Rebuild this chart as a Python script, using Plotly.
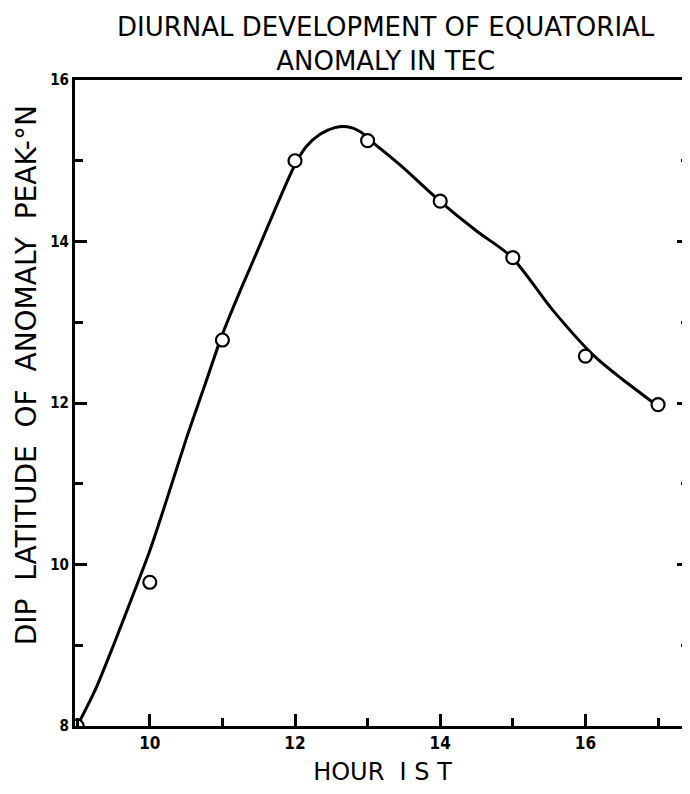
import plotly.graph_objects as go

# Observed points (hour IST, dip latitude of anomaly peak, deg N)
hours = [9, 10, 11, 12, 13, 14, 15, 16, 17]
dip_lat = [8.0, 9.78, 12.78, 15.0, 15.25, 14.5, 13.8, 12.58, 11.98]

# Hand-drawn smooth curve
curve_x = [9.0, 9.25, 9.5, 9.75, 10.0, 10.25, 10.5, 10.75, 11.0, 11.25, 11.5, 11.75,
           12.0, 12.15, 12.35, 12.55, 12.72, 12.9, 13.04, 13.47, 13.97, 14.5, 14.98,
           15.55, 16.1, 16.5, 16.97]
curve_y = [8.0, 8.45, 9.0, 9.58, 10.17, 10.85, 11.55, 12.2, 12.85, 13.4, 13.92, 14.45,
           14.95, 15.17, 15.33, 15.41, 15.42, 15.36, 15.25, 14.93, 14.52, 14.13, 13.81,
           13.15, 12.6, 12.3, 11.98]

x_ticks = [10, 12, 14, 16]
y_ticks = [8, 10, 12, 14, 16]

title_text = "DIURNAL DEVELOPMENT OF EQUATORIAL<br>ANOMALY IN TEC"
x_title = "HOUR  I S T"
y_title = "DIP  LATITUDE  OF  ANOMALY  PEAK-°N"

FONT = "DejaVu Sans, sans-serif"
XTICKFONT = dict(family="DejaVu Sans Condensed, DejaVu Sans, sans-serif",
                 size=17, color="black", weight="bold")
YTICKFONT = dict(family="DejaVu Sans Condensed, DejaVu Sans, sans-serif",
                 size=15, color="black", weight="bold")

fig = go.Figure()
fig.add_trace(go.Scatter(x=curve_x, y=curve_y, mode="lines",
                         line=dict(color="black", width=3, shape="spline", smoothing=0.8),
                         hoverinfo="skip", showlegend=False))
fig.add_trace(go.Scatter(x=hours, y=dip_lat, mode="markers",
                         marker=dict(symbol="circle", size=13, color="white",
                                     line=dict(color="black", width=2.2)),
                         showlegend=False))
# invisible trace to attach the right-hand tick axis
fig.add_trace(go.Scatter(x=hours, y=dip_lat, yaxis="y2", mode="markers",
                         marker=dict(opacity=0), hoverinfo="skip", showlegend=False))

fig.update_layout(
    width=682, height=778,
    margin=dict(l=67, r=0, t=72, b=60, autoexpand=False),
    paper_bgcolor="white", plot_bgcolor="white",
    annotations=[
        dict(text=title_text, xref="paper", yref="paper", x=0.506, y=1.0,
             yshift=36, xanchor="center", yanchor="middle", showarrow=False,
             font=dict(family=FONT, size=26, color="black")),
        dict(text=y_title, xref="paper", yref="paper", x=-0.0797, y=0.543,
             xanchor="center", yanchor="middle", textangle=-90, showarrow=False,
             font=dict(family=FONT, size=28, color="black")),
    ],
    xaxis=dict(range=[8.97, 17.44], tickvals=x_ticks, ticktext=[str(v) for v in x_ticks],
               ticks="inside", ticklen=12, tickwidth=2.5, tickcolor="black",
               minor=dict(dtick=1, tick0=9, ticks="inside", ticklen=8, tickwidth=2.5, tickcolor="black"),
               showline=True, linecolor="black", linewidth=3, mirror=True,
               showgrid=False, zeroline=False, tickfont=XTICKFONT, automargin=False,
               title=dict(text=x_title, font=dict(family=FONT, size=24, color="black"), standoff=14)),
    yaxis=dict(range=[8, 16], tickvals=y_ticks, ticktext=[str(v) for v in y_ticks],
               ticks="inside", ticklen=12, tickwidth=2.5, tickcolor="black",
               minor=dict(dtick=1, tick0=8, ticks="inside", ticklen=8, tickwidth=2.5, tickcolor="black"),
               showline=True, linecolor="black", linewidth=3,
               showgrid=False, zeroline=False, tickfont=YTICKFONT, automargin=False),
    yaxis2=dict(range=[8, 16], overlaying="y", side="right", tickvals=y_ticks,
                showticklabels=False, ticks="inside", ticklen=13, tickwidth=2.5, tickcolor="black",
                minor=dict(dtick=1, tick0=8, ticks="inside", ticklen=9, tickwidth=2.5, tickcolor="black"),
                showline=False, showgrid=False, zeroline=False, automargin=False),
)

fig.write_html("out.html")
